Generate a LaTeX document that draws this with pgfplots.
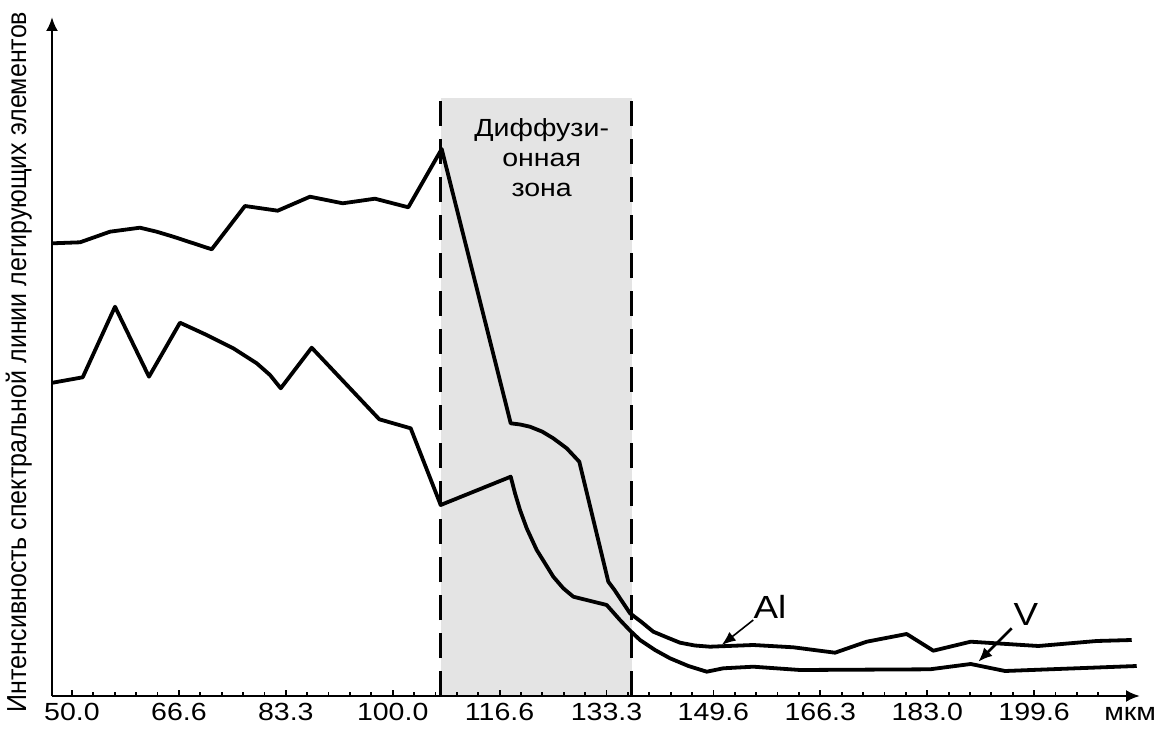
\documentclass[border=0pt]{standalone}
\usepackage{fontspec}
\setmainfont{Liberation Sans}[FakeStretch=1.15]
\newfontfamily\plainfont{Liberation Sans}
\usepackage{pgfplots}
\pgfplotsset{compat=1.18}
\usetikzlibrary{arrows.meta}
\definecolor{zonegray}{RGB}{228,228,228}
\begin{document}
\begin{tikzpicture}
\begin{axis}[
  scale only axis, width=544pt, height=339.5pt,
  xmin=46.885, xmax=216.34, ymin=0, ymax=67.9,
  axis lines=left,
  axis line style={line width=1.3pt, -{Latex[length=7pt,width=6pt]}},
  axis on top,
  clip=false,
  xtick={50,66.65,83.3,99.95,116.6,133.25,149.9,166.55,183.2,199.85},
  xticklabels={50.0,66.6,83.3,100.0,116.6,133.3,149.6,166.3,183.0,199.6},
  minor xtick={50,53.33,...,210},
  ytick=\empty,
  tick align=inside,
  major tick length=3pt, minor tick length=2pt,
  every tick/.style={black, line width=0.9pt},
  tick label style={font=\fontsize{12.4}{14}\selectfont},
  /pgf/number format/assume math mode=true,
  xlabel={\vphantom{0}мкм},
  xlabel style={at={(axis description cs:0.991,0)}, anchor=north, font=\fontsize{12.4}{14}\selectfont},
  ylabel={\scalebox{1}[1.1]{\plainfont\fontsize{12.5}{14}\selectfont Интенсивность спектральной линии легирующих элементов}},
  ylabel style={at={(axis description cs:-0.0239,0.492)}, anchor=base, inner sep=0pt},
]
\coordinate (BL) at (rel axis cs:0,0);
\coordinate (TR) at (rel axis cs:1,1);
% diffusion zone
\addplot[fill=zonegray, draw=none] coordinates {(107.43,59.8) (137.17,59.8)} \closedcycle;
\addplot[black, line width=1.6pt, dash pattern=on 12.5pt off 6.5pt] coordinates {(107.43,0) (107.43,59.8)};
\addplot[black, line width=1.6pt, dash pattern=on 12.5pt off 6.5pt] coordinates {(137.17,0) (137.17,59.8)};
% Al
\addplot[black, line width=1.9pt, line join=round] coordinates {
(46.99,45.27) (51.25,45.37) (55.92,46.43) (60.59,46.83) (63.19,46.43) (65.78,45.93) (71.76,44.67)
(76.94,49.0) (82.04,48.53) (87.07,49.93) (92.16,49.27) (97.19,49.73) (102.38,48.87) (107.58,54.7)
(118.33,27.27) (119.8,27.15) (121.33,26.93) (123.2,26.45) (124.96,25.77) (127.05,24.77) (129.01,23.43) (133.53,11.43)
(134.5,10.6) (135.35,9.77) (136.91,8.27) (138.6,7.45) (140.54,6.43) (142.7,5.85) (144.70,5.33) (147.0,5.05) (149.37,4.93) (156.11,5.1) (162.34,4.87)
(168.84,4.33) (173.77,5.43) (180.0,6.2) (184.15,4.53) (189.97,5.43) (200.5,5.0) (209.6,5.5) (215.05,5.6)
};
% V
\addplot[black, line width=1.9pt, line join=round] coordinates {
(46.99,31.33) (51.67,31.87) (56.70,38.93) (61.99,31.93) (66.82,37.33) (70.98,36.1) (75.12,34.77)
(78.77,33.27) (80.84,32.1) (82.51,30.77) (87.33,34.83) (97.86,27.67) (102.75,26.77) (107.42,19.1)
(118.33,21.93) (119.0,20.27) (119.78,18.6) (120.82,16.77) (122.38,14.6) (123.67,13.27) (124.96,11.93)
(126.52,10.77) (128.08,9.93) (133.28,9.1) (135.35,7.6) (136.9,6.55) (138.47,5.6) (140.8,4.6) (143.14,3.77) (146.0,3.0) (148.86,2.43)
(151.44,2.77) (156.11,2.93) (163.39,2.6) (183.63,2.67) (189.97,3.2) (195.32,2.5) (215.83,3.0)
};
% annotation arrows
\addplot[black, line width=0.8pt, -{Latex[length=7pt,width=5.5pt]}] coordinates {(156.11,7.6) (151.19,5.1)};
\addplot[black, line width=1.3pt, -{Latex[length=7pt,width=6pt]}] coordinates {(196.36,6.77) (191.16,3.43)};
\node[font=\fontsize{16}{18}\selectfont] at (axis cs:158.7,8.95) {Al};
\node[font=\fontsize{16}{18}\selectfont] at (axis cs:198.58,8.2) {V};
\node[anchor=base, font=\fontsize{12.4}{14}\selectfont, inner sep=0pt] at (axis cs:123.15,55.93) {Диффузи-};
\node[anchor=base, font=\fontsize{12.4}{14}\selectfont, inner sep=0pt] at (axis cs:123.15,52.93) {онная};
\node[anchor=base, font=\fontsize{12.4}{14}\selectfont, inner sep=0pt] at (axis cs:123.15,49.93) {зона};
\end{axis}
\pgfresetboundingbox
\useasboundingbox ([shift={(-26pt,-19.5pt)}]BL) rectangle ([shift={(12pt,8.5pt)}]TR);
\end{tikzpicture}
\end{document}
